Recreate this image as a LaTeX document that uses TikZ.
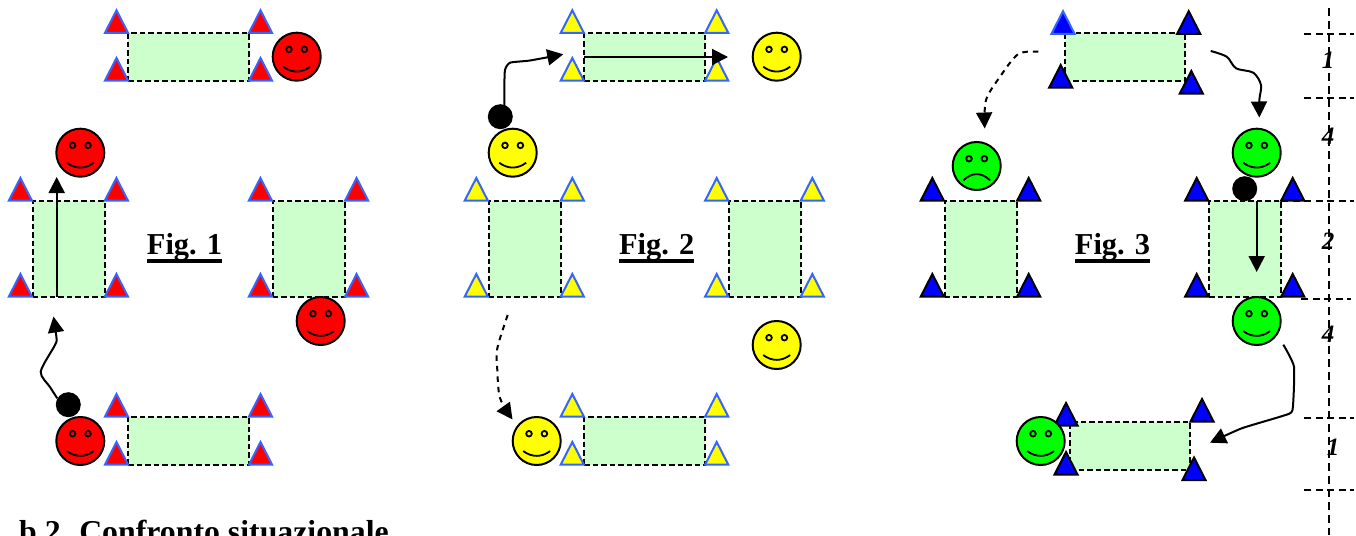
\documentclass[tikz,border=0pt]{standalone}
\usepackage{fontspec}
\setmainfont{Liberation Serif}
\usetikzlibrary{arrows.meta}
\definecolor{padgreen}{RGB}{204,255,204}
\definecolor{triblue}{RGB}{51,102,255}
\definecolor{cred}{RGB}{255,0,0}
\definecolor{cyel}{RGB}{255,255,0}
\definecolor{cgrn}{RGB}{0,255,0}
\definecolor{cblu}{RGB}{0,0,255}
\tikzset{
  padbox/.style={rectangle,draw=black,fill=padgreen,line width=2pt,dash pattern=on 5.5pt off 3pt,inner sep=0pt,outer sep=0pt},
  tribase/.style={line width=2pt,line join=miter},
  facebody/.style={circle,draw=black,line width=2pt,minimum size=48pt,inner sep=0pt},
  facepart/.style={draw=black,line width=1.8pt},
  ballnode/.style={circle,fill=black,minimum size=25pt,inner sep=0pt},
  conn/.style={line width=2pt,-{Triangle[length=16pt,width=16pt]}},
  connd/.style={conn,dash pattern=on 5.5pt off 5pt},
  ruler/.style={line width=2pt,dash pattern=on 8pt off 5pt},
  figlabel/.style={font=\fontsize{30.4}{36}\selectfont\bfseries,anchor=base,inner sep=0pt},
  digit/.style={font=\fontsize{25}{28}\selectfont\bfseries\itshape,anchor=base,inner sep=0pt},
  figrule/.style={line width=3.7pt}
}
% pad: name, x1, y1, x2, y2
\newcommand\padrect[5]{\node[padbox,minimum width={(#4-#2)*1pt},minimum height={(#5-#3)*1pt}] (#1) at ({(#2+#4)/2},{(#3+#5)/2}) {};}
% triangle: fill, border, apex x, base y
\newcommand\tria[4]{\draw[tribase,fill=#1,draw=#2] ({#3-11.6},{#4-0.3}) -- (#3,{#4-23}) -- ({#3+11.6},{#4-0.3}) -- cycle;}
% four triangles around a pad: fill, border, apex x left, apex x right, base y top, base y bottom
\newcommand\quadtri[6]{\tria{#1}{#2}{#3}{#5}\tria{#1}{#2}{#4}{#5}\tria{#1}{#2}{#3}{#6}\tria{#1}{#2}{#4}{#6}}
% smiley: name, x, y, colour
\newcommand\faceeyes[1]{%
  \draw[facepart] ([shift={(-7.7,-7.3)}]#1.center) circle[radius=2.8pt];
  \draw[facepart] ([shift={(7.7,-7.3)}]#1.center) circle[radius=2.8pt];}
\newcommand\smiley[4]{\node[facebody,fill=#4] (#1) at (#2,#3) {};\faceeyes{#1}
  \draw[facepart] ([shift={(-13.5,10)}]#1.center) .. controls ([shift={(-5,16.5)}]#1.center) and ([shift={(5,16.5)}]#1.center) .. ([shift={(13.5,10)}]#1.center);}
\newcommand\frowny[4]{\node[facebody,fill=#4] (#1) at (#2,#3) {};\faceeyes{#1}
  \draw[facepart] ([shift={(-13.5,14.5)}]#1.center) .. controls ([shift={(-5,6)}]#1.center) and ([shift={(5,6)}]#1.center) .. ([shift={(13.5,14.5)}]#1.center);}
\newcommand\figtext[4]{\node[figlabel] (#1) at (#2,#3) {#4};
  \draw[figrule] ([yshift=-6.3pt]#1.base west) -- ([yshift=-6.3pt]#1.base east);}
\begin{document}
\begin{tikzpicture}[x=1pt,y=-1pt]
\fill[white] (0,0) rectangle (1356,535);
\useasboundingbox (0,0) rectangle (1356,535);

% ---------- Fig. 1
\padrect{atop}{128.3}{33}{248.7}{81}
\quadtri{cred}{triblue}{116.5}{260.5}{33.3}{81}
\smiley{sa1}{296.7}{56.7}{cred}
\padrect{aleft}{32.5}{201}{105}{297}
\quadtri{cred}{triblue}{20.4}{116.4}{201}{297}
\smiley{sa2}{80.3}{152.7}{cred}
\padrect{aright}{272.7}{201}{345}{297}
\quadtri{cred}{triblue}{260.4}{356.6}{201}{297}
\smiley{sa3}{320.7}{321}{cred}
\padrect{abot}{128.3}{416.7}{248.7}{465}
\quadtri{cred}{triblue}{116.5}{260.5}{417}{465}
\smiley{sa4}{80.3}{441}{cred}
\node[ballnode] (ba) at (68.3,404.7) {};
\coordinate (a1tip) at (56.7,177);
\draw[conn] (aleft.south -| a1tip) -- (a1tip);
\coordinate (a2tip) at (53.5,316.5);
\draw[conn] plot[smooth,tension=0.45] coordinates {(ba.150) (50,387) (40.7,371.7) (55,345) (56.5,338) (a2tip)};
\figtext{fa}{184.5}{254.7}{Fig. 1}

% ---------- Fig. 2
\padrect{btop}{584.3}{33}{705}{81}
\quadtri{cyel}{triblue}{572.3}{716.7}{33.3}{81}
\smiley{sb1}{776.7}{56.7}{cyel}
\padrect{bleft}{488.7}{201}{560.7}{297}
\quadtri{cyel}{triblue}{476.3}{572.3}{201}{297}
\smiley{sb2}{512.7}{152.7}{cyel}
\padrect{bright}{728.7}{201}{800.7}{297}
\quadtri{cyel}{triblue}{716.7}{812.3}{201}{297}
\smiley{sb3}{776.7}{345}{cyel}
\padrect{bbot}{584.3}{416.7}{705}{465}
\quadtri{cyel}{triblue}{572.3}{716.7}{417}{465}
\smiley{sb4}{536.7}{441}{cyel}
\node[ballnode] (bb) at (500.3,116.7) {};
\coordinate (b1tip) at (728,57);
\draw[conn] (btop.west) -- (b1tip);
\coordinate (b2tip) at (563.3,54.3);
\draw[conn] plot[smooth,tension=0.35] coordinates {(504.4,105) (504.4,85) (505,70) (510,62.7) (530,60.5) (b2tip)};
\coordinate (b3tip) at (512.5,419.5);
\draw[connd] plot[smooth,tension=0.5] coordinates {(507.7,315) (497.3,348.3) (497.3,370) (500,398) (b3tip)};
\figtext{fb}{656.7}{254.7}{Fig. 2}

% ---------- Fig. 3
\padrect{ctop}{1064.7}{33}{1185}{81}
\tria{cblu}{triblue}{1063}{34.2}
\tria{cblu}{black}{1188.7}{34.2}
\tria{cblu}{black}{1060.7}{88}
\tria{cblu}{black}{1191.3}{94}
\padrect{cleft}{944.7}{201}{1017}{297}
\quadtri{cblu}{black}{932.3}{1028.7}{201}{297}
\frowny{sc1}{976.7}{166}{cgrn}
\padrect{cright}{1209}{201}{1281}{297}
\quadtri{cblu}{black}{1196.7}{1292.7}{201}{297}
\smiley{sc2}{1256.7}{152.7}{cgrn}
\node[ballnode] (bc) at (1244.7,188.7) {};
\smiley{sc3}{1256.7}{321}{cgrn}
\padrect{cbot}{1070}{422}{1190}{470}
\tria{cblu}{black}{1066}{426}
\tria{cblu}{black}{1066}{475}
\tria{cblu}{black}{1202}{422}
\tria{cblu}{black}{1194}{480.5}
\smiley{sc4}{1040.7}{441}{cgrn}
\coordinate (c1tip) at (1256.7,272);
\draw[conn] (cright.north -| c1tip) -- (c1tip);
\coordinate (c2tip) at (1259.3,117.5);
\draw[conn] plot[smooth,tension=0.5] coordinates {(1210.7,51) (1226.7,56.7) (1236,68.3) (1253.3,72.7) (1261,85) (1259.3,100) (c2tip)};
\coordinate (c3tip) at (1210,442.7);
\draw[conn] plot[smooth,tension=0.3] coordinates {(1283.3,344.7) (1294,366.7) (1292.5,410) (1283.3,415.7) (1241.7,428.3) (c3tip)};
\coordinate (c4tip) at (984.7,128.5);
\draw[connd] plot[smooth,tension=0.5] coordinates {(1038.3,51.7) (1018.3,54) (1000,76.7) (986,100) (c4tip)};
\figtext{fc}{1112.5}{254.7}{Fig. 3}

% ---------- ruler
\coordinate (rtop) at (1329,8);
\coordinate (rbot) at (1329,535);
\draw[ruler] (rtop) -- (rbot);
\foreach \nm/\xa/\ya/\xb in {r1/1304/34.3/1354, r2/1304/98.3/1354, r3/1281/201/1354, r4/1301/299.3/1351, r5/1304/418.3/1354, r6/1304/490.3/1354}{
  \coordinate (\nm a) at (\xa,\ya);
  \coordinate (\nm b) at (\xb,\ya);
  \draw[line width=2pt,dash pattern=on 7pt off 4.5pt] (\nm a) -- (\nm b);
}
\node[digit] (d1) at (1328,68) {1};
\node[digit] (d2) at (1328,144) {4};
\node[digit] (d3) at (1328,249.5) {2};
\node[digit] (d4) at (1328,342.7) {4};
\node[digit] (d5) at (1333,455) {1};

% ---------- caption cut by the page edge
\node[font=\fontsize{31.8}{36}\selectfont\bfseries,anchor=base west,inner sep=0pt] (cap) at (19,542) {b.2. Confronto situazionale};
\end{tikzpicture}
\end{document}
